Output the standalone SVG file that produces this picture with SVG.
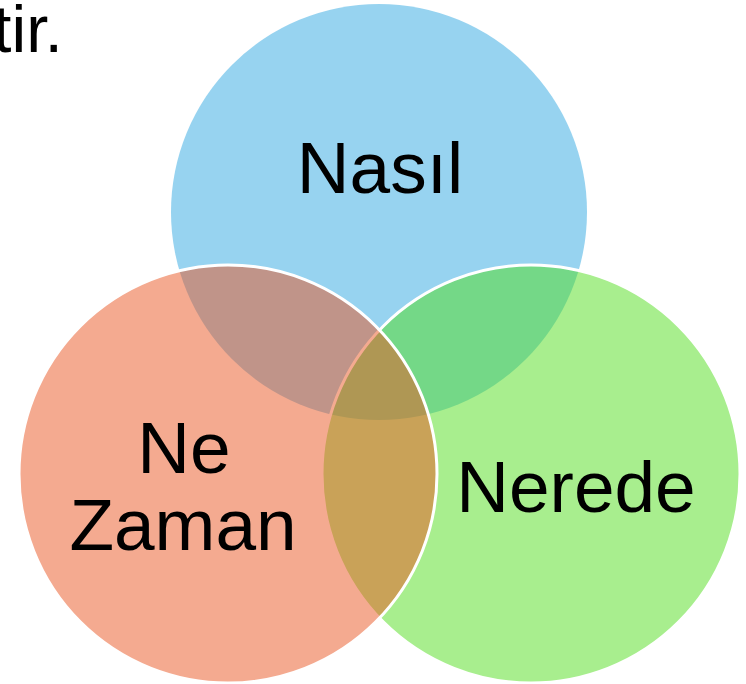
<svg xmlns="http://www.w3.org/2000/svg" width="746" height="684" viewBox="0 0 746 684">
  <style>
    .lbl { font-family: "Liberation Sans", Arial, sans-serif; font-size: 73px; fill: #000; text-anchor: middle; }
    .edge { stroke: #ffffff; stroke-width: 3; }
  </style>
  <rect width="746" height="684" fill="#ffffff"/>
  <text x="-7" y="52" font-family="'Liberation Sans', Arial, sans-serif" font-size="67" fill="#000" textLength="70" lengthAdjust="spacingAndGlyphs">tir.</text>
  <g id="node-nasil">
    <circle cx="379" cy="212" r="208" fill="rgb(47,167,225)" fill-opacity="0.5"/>
  </g>
  <g id="node-nerede">
    <circle class="edge" cx="531" cy="474" r="209" fill="rgb(81,221,29)" fill-opacity="0.5"/>
  </g>
  <g id="node-nezaman">
    <circle class="edge" cx="228" cy="474" r="209" fill="rgb(233,85,33)" fill-opacity="0.5"/>
  </g>
  <g id="labels">
    <text class="lbl" x="380" y="193">Nasıl</text>
    <text class="lbl" x="184" y="473">Ne</text>
    <text class="lbl" x="183" y="550">Zaman</text>
    <text class="lbl" x="576" y="512">Nerede</text>
  </g>
  <g id="connectors"></g>
</svg>
